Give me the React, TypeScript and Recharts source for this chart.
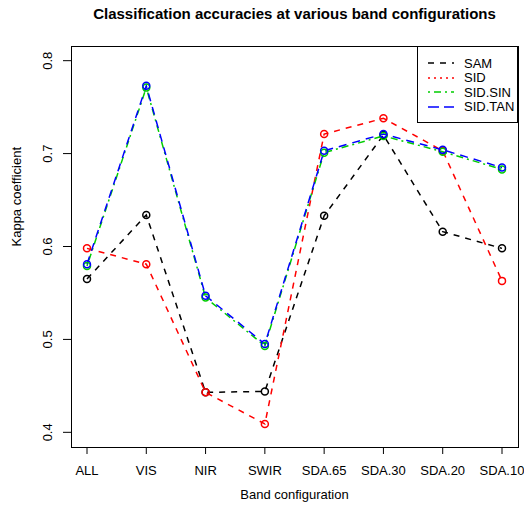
import React from "react";
import { LineChart, Line, XAxis, YAxis, Legend } from "recharts";

const bands = ["ALL", "VIS", "NIR", "SWIR", "SDA.65", "SDA.30", "SDA.20", "SDA.10"];
const sam = [0.565, 0.634, 0.443, 0.444, 0.633, 0.72, 0.616, 0.598];
const sid = [0.598, 0.581, 0.443, 0.409, 0.721, 0.738, 0.703, 0.563];
const sidSin = [0.579, 0.771, 0.545, 0.493, 0.701, 0.719, 0.702, 0.683];
const sidTan = [0.581, 0.773, 0.547, 0.495, 0.703, 0.721, 0.704, 0.685];
const yTicks = [0.4, 0.5, 0.6, 0.7, 0.8];

const series = [
  { key: "SAM", values: sam, color: "#000000", dash: "6 6", legendDash: "6 6" },
  { key: "SID", values: sid, color: "#ff0000", dash: "6 6", legendDash: "2 4" },
  { key: "SID.SIN", values: sidSin, color: "#00cd00", dash: "2 4 7 4", legendDash: "2 4 7 4" },
  { key: "SID.TAN", values: sidTan, color: "#0000ff", dash: "8 6", legendDash: "11 5" },
];

const data = bands.map((band, i) => {
  const row: Record<string, any> = { band };
  series.forEach((s) => (row[s.key] = s.values[i]));
  return row;
});

const FONT = "'Liberation Sans', Arial, Helvetica, sans-serif";

const YTick = ({ x, y, payload }: any) => (
  <text
    x={x}
    y={y}
    transform={`rotate(-90 ${x} ${y})`}
    textAnchor="middle"
    fontSize={13}
    fontFamily={FONT}
    fill="#000"
  >
    {payload.value.toFixed(1)}
  </text>
);

const LegendBox = () => (
  <div
    style={{
      width: 101,
      height: 77,
      border: "1px solid #000",
      background: "#fff",
      boxSizing: "border-box",
      paddingTop: 9,
      fontFamily: FONT,
      fontSize: 13,
    }}
  >
    {series.map((s) => (
      <div key={s.key} style={{ display: "flex", alignItems: "center", height: 14.5 }}>
        <svg width={46} height={10}>
          <line x1={10} x2={36} y1={5} y2={5} stroke={s.color} strokeWidth={1.5} strokeDasharray={s.legendDash} />
        </svg>
        <span>{s.key}</span>
      </div>
    ))}
  </div>
);

export default function App() {
  return (
    <div style={{ position: "absolute", left: 0, top: 0, width: 524, height: 510, background: "#fff", fontFamily: FONT }}>
      <div
        style={{
          position: "absolute",
          top: 5,
          left: 71,
          width: 447,
          textAlign: "center",
          fontWeight: "bold",
          fontSize: 15,
        }}
      >
        Classification accuracies at various band configurations
      </div>
      <LineChart width={524} height={510} data={data} margin={{ top: 46, right: 6, bottom: 0, left: 0 }}>
        <XAxis
          dataKey="band"
          height={63}
          padding={{ left: 16, right: 16 }}
          axisLine={false}
          tickSize={7}
          tickMargin={12}
          tickLine={{ stroke: "#000" }}
          tick={{ fill: "#000", fontSize: 13, fontFamily: FONT }}
          interval={0}
          label={{ value: "Band configuration", position: "insideBottom", offset: 11, fill: "#000", fontSize: 13, fontFamily: FONT }}
        />
        <YAxis
          type="number"
          domain={[0.3842, 0.8158]}
          ticks={yTicks}
          width={71}
          axisLine={false}
          tickSize={8}
          tickMargin={11}
          tickLine={{ stroke: "#000" }}
          tick={<YTick />}
          label={{ value: "Kappa coefficient", angle: -90, position: "insideLeft", offset: 16, fill: "#000", fontSize: 13, fontFamily: FONT }}
        />
        <Legend
          layout="horizontal"
          verticalAlign="middle"
          align="center"
          content={<LegendBox />}
          wrapperStyle={{ position: "absolute", top: 46, left: 417, width: 101 }}
        />
        {series.map((s) => (
          <Line
            key={s.key}
            dataKey={s.key}
            stroke={s.color}
            strokeWidth={1.5}
            strokeDasharray={s.dash}
            dot={{ r: 3.5, stroke: s.color, strokeWidth: 1.5, fill: "none", strokeDasharray: "" }}
            activeDot={false}
            isAnimationActive={false}
          />
        ))}
      </LineChart>
      <div
        style={{
          position: "absolute",
          left: 71,
          top: 46,
          width: 448,
          height: 402,
          border: "1px solid #000",
          boxSizing: "border-box",
          pointerEvents: "none",
        }}
      />
    </div>
  );
}
